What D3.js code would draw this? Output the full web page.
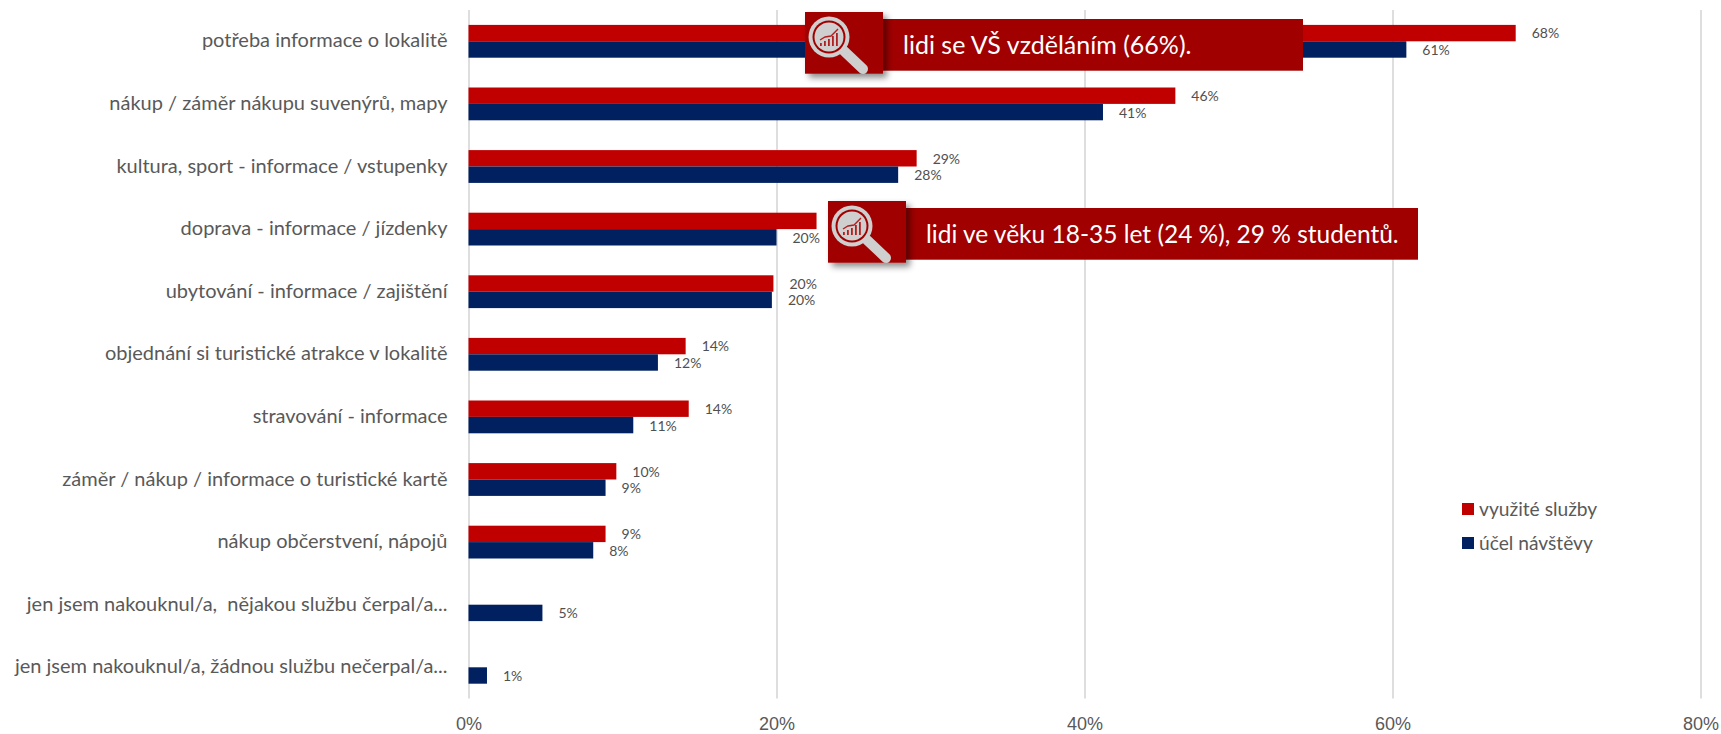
<!DOCTYPE html>
<html lang="cs">
<head>
<meta charset="utf-8">
<title>Využité služby a účel návštěvy</title>
<script src="https://cdn.jsdelivr.net/npm/d3@7"></script>
<style>
  html, body { margin: 0; padding: 0; background: #fff; }
  svg { display: block; font-family: Lato, "Open Sans", sans-serif; }
  svg text { white-space: pre; }
  .domain { display: none; }
</style>
</head>
<body>
<svg id="chart" width="1721" height="734"></svg>
<script>
// Survey answers, percent of respondents
const categories = [
  "potřeba informace o lokalitě",
  "nákup / záměr nákupu suvenýrů, mapy",
  "kultura, sport - informace / vstupenky",
  "doprava - informace / jízdenky",
  "ubytování - informace / zajištění",
  "objednání si turistické atrakce v lokalitě",
  "stravování - informace",
  "záměr / nákup / informace o turistické kartě",
  "nákup občerstvení, nápojů",
  "jen jsem nakouknul/a,  nějakou službu čerpal/a...",
  "jen jsem nakouknul/a, žádnou službu nečerpal/a..."
];
const usedServices = [68.0, 45.9, 29.1, 22.6, 19.8, 14.1, 14.3, 9.6, 8.9, null, null];
const visitPurpose = [60.9, 41.2, 27.9, 20.0, 19.7, 12.3, 10.7, 8.9, 8.1, 4.8, 1.2];
const seriesNames = ["využité služby", "účel návštěvy"];
const seriesColors = ["#c00000", "#002060"];
const xTicks = [0, 20, 40, 60, 80];
const calloutTexts = ["lidi se VŠ vzděláním (66%).", "lidi ve věku 18-35 let (24 %), 29 % studentů."];

const svg = d3.select("#chart");
const textGrey = "#595959";

const x = d3.scaleLinear().domain([0, 80]).range([468.5, 1700.5]);
const y = d3.scaleBand().domain(categories).range([10, 698.6]).paddingInner(0.476).paddingOuter(0.238);
const inner = d3.scaleBand().domain(seriesNames).range([0, y.bandwidth()]);

// Vertical gridlines and percent labels
const axis = d3.axisBottom(x).tickValues(xTicks).tickFormat(d => d + "%")
  .tickSize(688.6).tickPadding(18.3);
const gAxis = svg.append("g").attr("transform", "translate(0,10)").call(axis);
gAxis.selectAll("line").attr("stroke", "#dedede").attr("stroke-width", 2);
gAxis.selectAll("text").attr("fill", textGrey).attr("font-size", 18).attr("font-family", "inherit");

// Category labels
svg.append("g").selectAll("text").data(categories).join("text")
  .attr("x", 447.5)
  .attr("y", d => y(d) + y.bandwidth() / 2 - 1)
  .attr("dy", "0.35em")
  .attr("text-anchor", "end")
  .attr("fill", textGrey)
  .attr("font-size", 20)
  .text(d => d);

// Bars and their value labels, one group per series
[usedServices, visitPurpose].forEach((values, s) => {
  const rows = categories
    .map((c, i) => ({ c, v: values[i] }))
    .filter(d => d.v !== null);
  const top = d => y(d.c) + inner(seriesNames[s]);
  const g = svg.append("g");
  g.selectAll("rect").data(rows).join("rect")
    .attr("x", x(0))
    .attr("y", top)
    .attr("width", d => x(d.v) - x(0))
    .attr("height", inner.bandwidth())
    .attr("fill", seriesColors[s]);
  g.selectAll("text").data(rows).join("text")
    .attr("x", d => x(d.v) + 16)
    .attr("y", d => top(d) + inner.bandwidth() / 2 + 0.5)
    .attr("dy", "0.35em")
    .attr("fill", "#505050")
    .attr("font-size", 14)
    .text(d => d3.format(".0f")(d.v) + "%");
});

// Legend
const legend = svg.append("g").selectAll("g").data(seriesNames).join("g")
  .attr("transform", (d, i) => `translate(1462,${503 + i * 34})`);
legend.append("rect").attr("width", 12).attr("height", 12).attr("fill", (d, i) => seriesColors[i]);
legend.append("text").attr("x", 17).attr("y", 6).attr("dy", "0.35em")
  .attr("fill", textGrey).attr("font-size", 19.2).text(d => d);

// Shared drop shadow and magnifying-glass emblem for the callouts
const defs = svg.append("defs");
const shadow = defs.append("filter").attr("id", "softShadow")
  .attr("x", "-20%").attr("y", "-20%").attr("width", "150%").attr("height", "150%");
shadow.append("feDropShadow").attr("dx", 4).attr("dy", 4).attr("stdDeviation", 3)
  .attr("flood-color", "#000").attr("flood-opacity", 0.45);

const emblem = defs.append("g").attr("id", "emblem");
emblem.append("path").attr("d", "M39 39 L58 57").attr("stroke", "#cfcfcf")
  .attr("stroke-width", 10).attr("stroke-linecap", "round");
emblem.append("circle").attr("cx", 24).attr("cy", 25).attr("r", 20.5).attr("fill", "#cfcfcf");
emblem.append("circle").attr("cx", 24).attr("cy", 25).attr("r", 16.5).attr("fill", "#a00000");
emblem.append("circle").attr("cx", 24).attr("cy", 25).attr("r", 14.5).attr("fill", "#cfcfcf");
emblem.append("path").attr("d", "M15 28 L20 25 L26 24 L33 17")
  .attr("fill", "none").attr("stroke", "#b02020").attr("stroke-width", 1.4);
[[15, 31, 3], [19, 29, 5], [23, 27, 7], [27, 24, 10], [31, 21, 13]].forEach(([bx, by, bh]) => {
  emblem.append("rect").attr("x", bx).attr("y", by).attr("width", 1.8).attr("height", bh).attr("fill", "#b02020");
});

// Callout banners laid over the chart
const callouts = [
  { text: calloutTexts[0], iconX: 805, iconY: 12, right: 1303, textX: 903, size: 25 },
  { text: calloutTexts[1], iconX: 828, iconY: 201, right: 1418, textX: 926, size: 24.5 }
];
callouts.forEach(c => {
  const g = svg.append("g");
  g.append("rect")
    .attr("x", c.iconX + 78).attr("y", c.iconY + 7)
    .attr("width", c.right - c.iconX - 78).attr("height", 51.7)
    .attr("fill", "#a00000");
  const icon = g.append("g").attr("transform", `translate(${c.iconX},${c.iconY})`);
  icon.append("rect").attr("width", 78).attr("height", 61.7).attr("fill", "#a00000")
    .attr("filter", "url(#softShadow)");
  icon.append("use").attr("href", "#emblem");
  g.append("text").attr("x", c.textX).attr("y", c.iconY + 33).attr("dy", "0.35em")
    .attr("fill", "#fff").attr("font-size", c.size).text(c.text);
});
</script>
</body>
</html>
